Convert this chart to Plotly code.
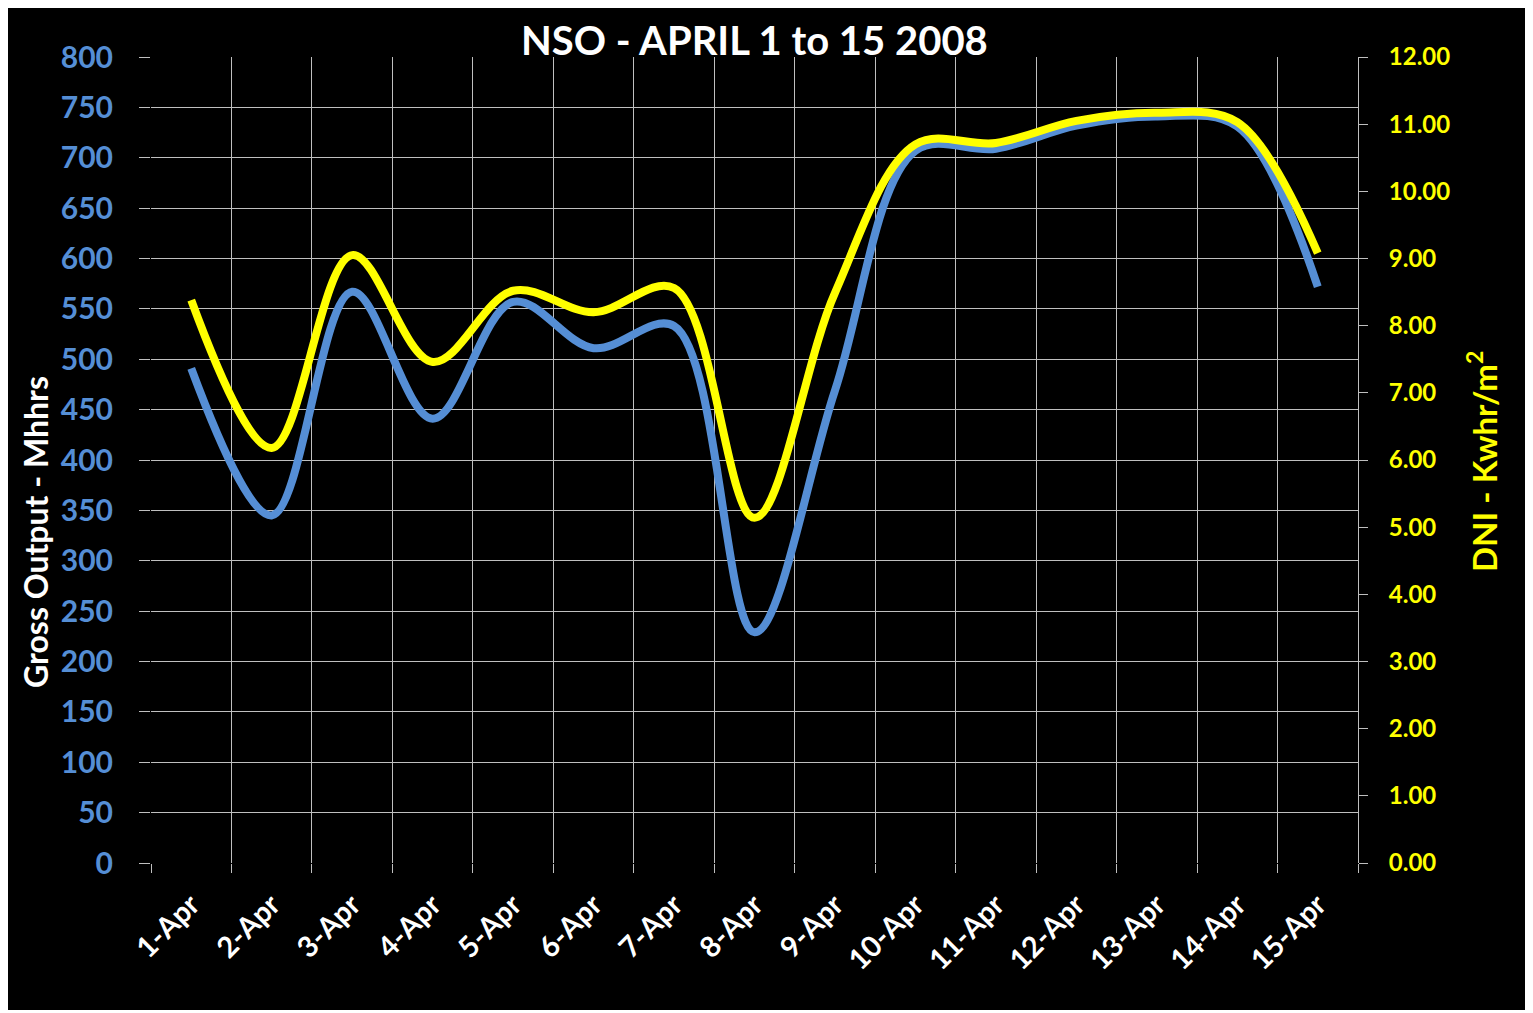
import plotly.graph_objects as go

days = ["1-Apr", "2-Apr", "3-Apr", "4-Apr", "5-Apr", "6-Apr", "7-Apr", "8-Apr",
        "9-Apr", "10-Apr", "11-Apr", "12-Apr", "13-Apr", "14-Apr", "15-Apr"]
gross_output = [491, 345, 567, 441, 557, 511, 533, 229, 469, 707, 709, 732, 741, 731, 572]
dni = [8.38, 6.18, 9.05, 7.46, 8.52, 8.20, 8.56, 5.14, 8.49, 10.70, 10.72, 11.05, 11.17, 11.03, 9.08]

left_ticks = list(range(0, 801, 50))
right_ticks = list(range(0, 13, 1))

# page body has an 8px margin; figure pixel = reference pixel - 8
OFF = 8
W, H = 1533 - OFF, 1013 - OFF
L = 151 - OFF
R = W - (1358 - OFF)
T = 57 - OFF
B = H - (863 - OFF)
pw, ph = W - L - R, H - T - B


def px(x):
    return (x - OFF - L) / pw


def py(y):
    return (H - B - (y - OFF)) / ph


FONT = "Lato"
BLUE = "#558ED5"
YELLOW = "#FFFF00"
GRID = "#BFBFBF"

fig = go.Figure()
fig.add_trace(go.Scatter(x=days, y=gross_output, mode="lines",
                         line=dict(color=BLUE, width=8, shape="spline", smoothing=1.0),
                         name="Gross Output", yaxis="y"))
fig.add_trace(go.Scatter(x=days, y=dni, mode="lines",
                         line=dict(color=YELLOW, width=8, shape="spline", smoothing=1.0),
                         name="DNI", yaxis="y2"))

fig.update_layout(
    width=W, height=H,
    margin=dict(l=L, r=R, t=T, b=B),
    paper_bgcolor="white",
    plot_bgcolor="black",
    showlegend=False,
    font=dict(family=FONT),
    xaxis=dict(
        type="category", range=[-0.5, 14.5], tickson="boundaries",
        showgrid=True, gridcolor=GRID, gridwidth=1,
        ticks="outside", ticklen=9, tickcolor=GRID,
        tickangle=-45,
        tickfont=dict(color="white", size=29, family=FONT, weight="bold"),
        ticklabelstandoff=18,
        showline=False, zeroline=False, fixedrange=True,
    ),
    yaxis=dict(
        range=[0, 800], tickvals=left_ticks,
        showgrid=True, gridcolor=GRID, gridwidth=1,
        ticks="outside", ticklen=11, tickcolor=GRID,
        tickfont=dict(color=BLUE, size=30, family=FONT, weight="bold"),
        ticklabelstandoff=20,
        showline=False, zeroline=False,
    ),
    yaxis2=dict(
        range=[0, 12], tickvals=right_ticks, tickformat=".2f",
        overlaying="y", side="right",
        showgrid=False,
        ticks="outside", ticklen=9, tickcolor=GRID,
        tickfont=dict(color=YELLOW, size=24, family=FONT, weight="bold"),
        ticklabelstandoff=16,
        showline=True, linecolor=GRID, linewidth=1, zeroline=False,
    ),
    shapes=[dict(type="rect", xref="paper", yref="paper",
                 x0=px(0), x1=px(1533),
                 y0=py(1010), y1=py(0),
                 fillcolor="black", line=dict(width=0), layer="below")],
    annotations=[
        dict(text="<b>NSO - APRIL 1 to 15 2008</b>", xref="paper", yref="paper",
             x=px(754), y=py(40), xanchor="center", yanchor="middle",
             showarrow=False, font=dict(color="white", size=40, family=FONT)),
        dict(text="<b>Gross Output - Mhhrs</b>", xref="paper", yref="paper",
             x=px(35), y=py(532), xanchor="center", yanchor="middle",
             textangle=-90, showarrow=False, font=dict(color="white", size=32, family=FONT)),
        dict(text="<b>DNI - Kwhr/m<sup>2</sup></b>", xref="paper", yref="paper",
             x=px(1482), y=py(462), xanchor="center", yanchor="middle",
             textangle=-90, showarrow=False, font=dict(color=YELLOW, size=33, family=FONT)),
    ],
)

fig.write_html("out.html")
